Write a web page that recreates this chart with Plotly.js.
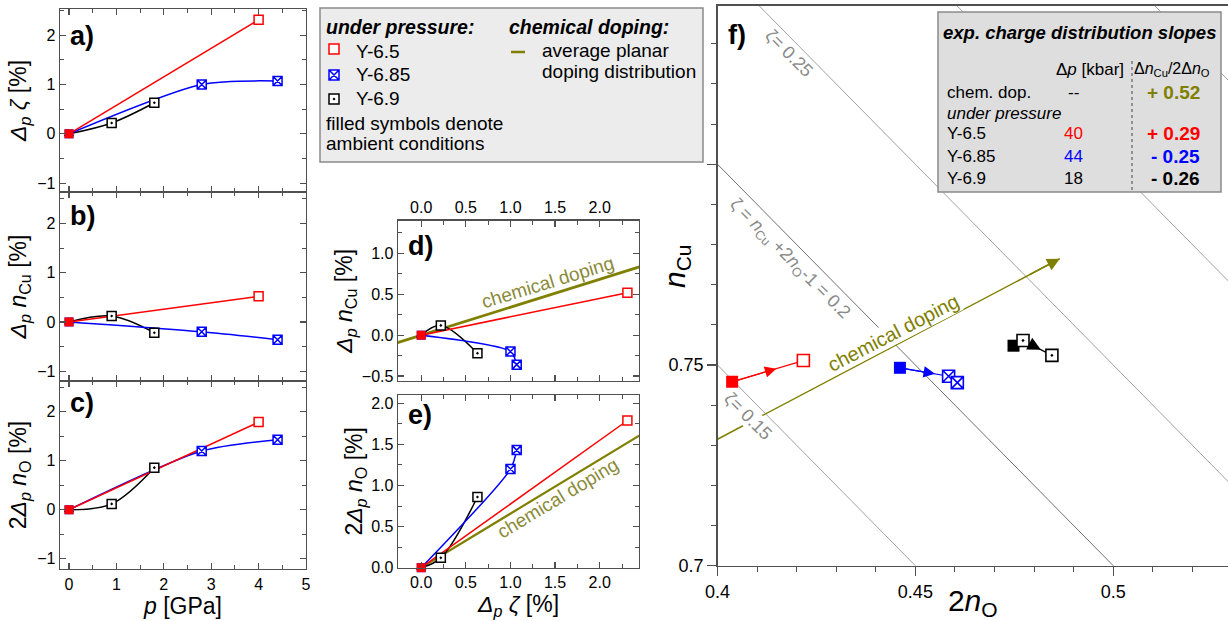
<!DOCTYPE html>
<html><head><meta charset="utf-8">
<script src="https://cdn.plot.ly/plotly-3.0.1.min.js"></script>
<style>html,body{margin:0;padding:0;background:#fff}</style>
</head><body><div id="chart" style="width:1228px;height:621px"></div>
<script>
// ---------------- data ----------------
const samples = ['Y-6.5', 'Y-6.85', 'Y-6.9'];
// pressure [GPa]
const pRed = [0, 4.0];
const pBlue = [0, 2.8, 4.4];
const pBlack = [0, 0.9, 1.8];
// Δp ζ [%]
const dZetaRed = [0, 2.31];
const dZetaBlue = [0, 1.00, 1.07];
const dZetaBlack = [0, 0.22, 0.63];
// Δp nCu [%]
const dNCuRed = [0, 0.52];
const dNCuBlue = [0, -0.20, -0.36];
const dNCuBlack = [0, 0.12, -0.22];
// 2 Δp nO [%]
const d2NORed = [0, 1.79];
const d2NOBlue = [0, 1.20, 1.43];
const d2NOBlack = [0, 0.12, 0.86];
// panel f: absolute 2nO / nCu
const f2nORed = [0.4037, 0.4217];
const fNCuRed = [0.7458, 0.7511];
const f2nOBlue = [0.4461, 0.4584, 0.4606];
const fNCuBlue = [0.7493, 0.7472, 0.7456];
const f2nOBlack = [0.4748, 0.4772, 0.4845];
const fNCuBlack = [0.7548, 0.7561, 0.7524];
// chemical doping
const chemSlope = 0.52;
const chemStart2nO = 0.4, chemStartNCu = 0.7315, chemEnd2nO = 0.4865;
const zetaLevels = [0.15, 0.20, 0.25, 0.30, 0.35];
// table
const pressKbar = ['40', '44', '18'];
const slopeText = ['+ 0.29', '- 0.25', '- 0.26'];
const chemSlopeText = '+ 0.52';

// ---------------- styling ----------------
const W = 1228, H = 621;
const px = x => x / W, py = y => 1 - y / H;
const FONT = 'Liberation Sans, Arial, sans-serif';
const RED = '#ff0000', BLUE = '#0000ff', BLACK = '#000000', OLIVE = '#808000', OLIVE_T = '#8a8a38';
const AX = '#505050';

const traces = [];
function panel(xa, ya, X, Y) {
  // X, Y: arrays [black, blue, red]
  const defs = [
    {c: BLACK, sym: 'square-dot', amb: 'triangle-up', shape: 'spline', sm: 1},
    {c: BLUE, sym: 'square-x', amb: 'square', shape: 'spline', sm: 0.75},
    {c: RED, sym: 'square', amb: 'square', shape: 'linear', sm: 1}
  ];
  defs.forEach((d, i) => {
    traces.push({x: X[i], y: Y[i], xaxis: xa, yaxis: ya, mode: 'lines', hoverinfo: 'skip',
      line: {color: d.c, width: 1.5, shape: d.shape, smoothing: d.sm}, showlegend: false});
  });
  defs.forEach((d, i) => {
    traces.push({x: X[i].slice(1), y: Y[i].slice(1), xaxis: xa, yaxis: ya, mode: 'markers', cliponaxis: false,
      marker: {symbol: d.sym, size: 9, color: '#ffffff', line: {color: d.c, width: 1.5}}, showlegend: false});
  });
  defs.forEach((d, i) => {
    traces.push({x: [X[i][0]], y: [Y[i][0]], xaxis: xa, yaxis: ya, mode: 'markers', cliponaxis: false,
      marker: {symbol: d.amb, size: 9, color: d.c, line: {width: 0}}, showlegend: false});
  });
}
panel('x', 'y', [pBlack, pBlue, pRed], [dZetaBlack, dZetaBlue, dZetaRed]);
panel('x2', 'y2', [pBlack, pBlue, pRed], [dNCuBlack, dNCuBlue, dNCuRed]);
panel('x3', 'y3', [pBlack, pBlue, pRed], [d2NOBlack, d2NOBlue, d2NORed]);

// chemical-doping lines in d and e (derived from slope ΔnCu/2ΔnO)
const chemX = [-0.4, 2.6];
traces.push({x: chemX, y: chemX.map(v => v * chemSlope / (1 + chemSlope)), xaxis: 'x4', yaxis: 'y4',
  mode: 'lines', line: {color: OLIVE, width: 2.8}, showlegend: false});
traces.push({x: chemX, y: chemX.map(v => v / (1 + chemSlope)), xaxis: 'x5', yaxis: 'y5',
  mode: 'lines', line: {color: OLIVE, width: 2.2}, showlegend: false});
panel('x4', 'y4', [dZetaBlack, dZetaBlue, dZetaRed], [dNCuBlack, dNCuBlue, dNCuRed]);
panel('x5', 'y5', [dZetaBlack, dZetaBlue, dZetaRed], [d2NOBlack, d2NOBlue, d2NORed]);

// panel f: iso-ζ lines  (ζ = nCu + 2nO - 1)
const isoX = [0.38, 0.56];
zetaLevels.forEach(z => {
  traces.push({x: isoX, y: isoX.map(v => z + 1 - v), xaxis: 'x6', yaxis: 'y6', mode: 'lines',
    line: {color: z === 0.2 ? '#707070' : '#a0a0a0', width: 1}, showlegend: false, hoverinfo: 'skip'});
});
// chemical doping line in f
const chemEndNCu = chemStartNCu + chemSlope * (chemEnd2nO - chemStart2nO);
traces.push({x: [chemStart2nO, chemEnd2nO], y: [chemStartNCu, chemEndNCu],
  xaxis: 'x6', yaxis: 'y6', mode: 'lines', line: {color: OLIVE, width: 1.5}, showlegend: false});

const fSeries = [
  {x: f2nORed, y: fNCuRed, c: RED, sym: 'square', arrowSeg: 0, frac: 0.62, as: 1.9, ss: 0},
  {x: f2nOBlue, y: fNCuBlue, c: BLUE, sym: 'square-x', arrowSeg: 0, frac: 0.72, as: 1.9, ss: 0},
  {x: f2nOBlack, y: fNCuBlack, c: BLACK, sym: 'square-dot', arrowSeg: 1, frac: 0.62, as: 2.2, ss: 7}
];
fSeries.forEach(s => {
  traces.push({x: s.x, y: s.y, xaxis: 'x6', yaxis: 'y6', mode: 'lines', line: {color: s.c, width: 1.2}, showlegend: false});
  traces.push({x: [s.x[0]], y: [s.y[0]], xaxis: 'x6', yaxis: 'y6', mode: 'markers',
    marker: {symbol: 'square', size: 12, color: s.c}, showlegend: false});
  traces.push({x: s.x.slice(1), y: s.y.slice(1), xaxis: 'x6', yaxis: 'y6', mode: 'markers',
    marker: {symbol: s.sym, size: 12, color: '#ffffff', line: {color: s.c, width: 1.6}}, showlegend: false});
});
// legend glyphs (overlay axis in pixel units)
traces.push({x: [334, 334, 334], y: [49, 75, 99], xaxis: 'x7', yaxis: 'y7', mode: 'markers', cliponaxis: false,
  marker: {symbol: ['square', 'square-x', 'square-dot'], size: 10, color: '#ffffff',
    line: {color: [RED, BLUE, BLACK], width: 1.5}}, showlegend: false, hoverinfo: 'skip'});

// ---------------- axes ----------------
function frameAxis(o) {
  return Object.assign({showline: true, linecolor: AX, linewidth: 1.4, mirror: 'allticks', ticks: 'inside',
    ticklen: 6, tickwidth: 1.2, tickcolor: AX, zeroline: false, showgrid: false,
    tickfont: {family: FONT, size: 16, color: '#000'}, fixedrange: true}, o);
}
const ttl = (t, s) => ({text: t, font: {family: FONT, size: s || 23, color: '#000'}});
const xabc = [px(60), px(306)];
const xde = [px(398), px(639)];
const minorInt = {dtick: 0.5, ticklen: 4, ticks: 'inside', tickcolor: AX, tickwidth: 1};
const minorDE = {dtick: 0.25, ticklen: 4, ticks: 'inside', tickcolor: AX, tickwidth: 1};

const layout = {
  width: W, height: H, margin: {l: 0, r: 0, t: 0, b: 0},
  paper_bgcolor: '#ffffff', plot_bgcolor: 'rgba(0,0,0,0)', showlegend: false,
  font: {family: FONT, color: '#000'},
  xaxis: frameAxis({domain: xabc, anchor: 'y', range: [-0.19, 5.0], tick0: 0, dtick: 1, minor: minorInt, showticklabels: false}),
  yaxis: frameAxis({domain: [py(192), py(9)], anchor: 'x', range: [-1.18, 2.53], tick0: 0, dtick: 1, minor: minorInt,
    title: Object.assign(ttl('<i>Δ<sub>p</sub> ζ</i> [%]'), {standoff: 4})}),
  xaxis2: frameAxis({domain: xabc, anchor: 'y2', range: [-0.19, 5.0], tick0: 0, dtick: 1, minor: minorInt, showticklabels: false}),
  yaxis2: frameAxis({domain: [py(381), py(192)], anchor: 'x2', range: [-1.2, 2.64], tick0: 0, dtick: 1, minor: minorInt,
    title: Object.assign(ttl('<i>Δ<sub>p</sub> n</i><sub>Cu</sub> [%]'), {standoff: 4})}),
  xaxis3: frameAxis({domain: xabc, anchor: 'y3', range: [-0.19, 5.0], tick0: 0, dtick: 1, minor: minorInt,
    title: Object.assign(ttl('<i>p</i> [GPa]'), {standoff: 2})}),
  yaxis3: frameAxis({domain: [py(569), py(381)], anchor: 'x3', range: [-1.21, 2.63], tick0: 0, dtick: 1, minor: minorInt,
    title: Object.assign(ttl('2<i>Δ<sub>p</sub> n</i><sub>O</sub> [%]'), {standoff: 4})}),
  xaxis4: frameAxis({domain: xde, anchor: 'y4', side: 'top', range: [-0.26, 2.44], tick0: 0, dtick: 0.5, tickformat: '.1f', minor: minorDE}),
  yaxis4: frameAxis({domain: [py(381), py(220.7)], anchor: 'x4', range: [-0.56, 1.40], tick0: 0, dtick: 0.5, tickformat: '.1f', minor: minorDE,
    title: Object.assign(ttl('<i>Δ<sub>p</sub> n</i><sub>Cu</sub> [%]'), {standoff: 2})}),
  xaxis5: frameAxis({domain: xde, anchor: 'y5', range: [-0.26, 2.44], tick0: 0, dtick: 0.5, tickformat: '.1f', minor: minorDE,
    title: Object.assign(ttl('<i>Δ<sub>p</sub> ζ</i> [%]'), {standoff: 2})}),
  yaxis5: frameAxis({domain: [py(567.7), py(395)], anchor: 'x5', range: [0, 2.1], tick0: 0, dtick: 0.5, tickformat: '.1f', minor: minorDE,
    title: Object.assign(ttl('2<i>Δ<sub>p</sub> n</i><sub>O</sub> [%]'), {standoff: 2})}),
  xaxis6: {domain: [px(717.5), 1], anchor: 'y6', range: [0.4, 0.529], showline: true, linecolor: AX, linewidth: 1.4, mirror: true,
    ticks: 'outside', ticklen: 9, tickwidth: 1.2, tickcolor: AX, tickmode: 'array', tickvals: [0.4, 0.45, 0.5], ticktext: ['0.4', '0.45', '0.5'],
    minor: {tickmode: 'linear', tick0: 0.4, dtick: 0.01, ticks: 'outside', ticklen: 5, tickcolor: AX, tickwidth: 1},
    showgrid: false, zeroline: false, tickfont: {family: FONT, size: 18, color: '#000'}, fixedrange: true,
    title: Object.assign(ttl('2<i>n</i><sub>O</sub>', 30), {standoff: 0})},
  yaxis6: {domain: [py(565.7), py(5.7)], anchor: 'x6', range: [0.7, 0.8395], showline: true, linecolor: AX, linewidth: 1.4, mirror: false,
    ticks: 'outside', ticklen: 9, tickwidth: 1.2, tickcolor: AX, tickmode: 'array', tickvals: [0.7, 0.75, 0.8], ticktext: ['0.7', '0.75', ''],
    minor: {tickmode: 'linear', tick0: 0.7, dtick: 0.01, ticks: 'outside', ticklen: 5, tickcolor: AX, tickwidth: 1},
    showgrid: false, zeroline: false, tickfont: {family: FONT, size: 18, color: '#000'}, fixedrange: true},
  xaxis7: {domain: [0, 1], anchor: 'y7', range: [0, W], visible: false, fixedrange: true},
  yaxis7: {domain: [0, 1], anchor: 'x7', range: [H, 0], visible: false, fixedrange: true},
  shapes: [], annotations: []
};

// legend box
layout.shapes.push({type: 'rect', xref: 'paper', yref: 'paper', x0: px(320), x1: px(703), y0: py(162), y1: py(8),
  fillcolor: '#ececec', line: {color: '#8a8a8a', width: 1.5}, layer: 'below'});
layout.shapes.push({type: 'line', xref: 'paper', yref: 'paper', x0: px(511), x1: px(525), y0: py(52), y1: py(52),
  line: {color: OLIVE, width: 2.5}, layer: 'above'});
// table box
layout.shapes.push({type: 'rect', xref: 'paper', yref: 'paper', x0: px(938), x1: px(1221), y0: py(192), y1: py(12),
  fillcolor: '#dedede', line: {color: '#8a8a8a', width: 1.5}, layer: 'above'});
layout.shapes.push({type: 'line', xref: 'paper', yref: 'paper', x0: px(1132), x1: px(1132), y0: py(190), y1: py(58),
  line: {color: '#444', width: 1, dash: 'dot'}, layer: 'above'});

const A = layout.annotations;
// arrowheads in f (annotations in data coordinates)
A.push({xref: 'x6', yref: 'y6', axref: 'x6', ayref: 'y6', x: chemEnd2nO, y: chemEndNCu,
  ax: chemEnd2nO - 0.008, ay: chemEndNCu - 0.008 * chemSlope, text: '', showarrow: true,
  arrowhead: 2, arrowsize: 1.7, arrowwidth: 1.5, arrowcolor: OLIVE, standoff: 0});
fSeries.forEach(s => {
  const i = s.arrowSeg;
  const x0 = s.x[i], y0 = s.y[i], x1 = s.x[i + 1], y1 = s.y[i + 1];
  A.push({xref: 'x6', yref: 'y6', axref: 'x6', ayref: 'y6', x: x0 + s.frac * (x1 - x0), y: y0 + s.frac * (y1 - y0),
    ax: x0, ay: y0, text: '', showarrow: true, arrowhead: 2, arrowsize: s.as, arrowwidth: 1.2, arrowcolor: s.c,
    standoff: 0, startstandoff: s.ss});
});

function txt(x, y, text, o) {
  A.push(Object.assign({xref: 'paper', yref: 'paper', x: px(x), y: py(y), text: text, showarrow: false,
    xanchor: 'left', yanchor: 'middle', font: {family: FONT, size: 19, color: '#000'}}, o || {}));
}
// panel labels
[['a)', 82, 36], ['b)', 82, 216], ['c)', 82, 403], ['d)', 420, 246], ['e)', 420, 415], ['f)', 737, 35]].forEach(l =>
  txt(l[1], l[2], '<b>' + l[0] + '</b>', {xanchor: 'center', font: {family: FONT, size: 27, color: '#000'}}));

// legend texts
const LB = {family: FONT, size: 19.5, color: '#000'};
txt(324, 27, '<b><i>under pressure:</i></b>', {font: LB});
txt(354, 51, samples[0]);
txt(354, 75, samples[1]);
txt(354, 98, samples[2]);
txt(324, 123, 'filled symbols denote');
txt(324, 143, 'ambient conditions');
txt(507, 27, '<b><i>chemical doping:</i></b>', {font: LB});
txt(540, 50, 'average planar');
txt(540, 72, 'doping distribution');

// chemical doping labels in d, e
txt(547, 282, 'chemical doping', {xanchor: 'center', textangle: -17, font: {family: FONT, size: 19, color: OLIVE_T}});
txt(557, 498, 'chemical doping', {xanchor: 'center', textangle: -31, font: {family: FONT, size: 19, color: OLIVE_T}});

// panel f labels
const gray = {family: FONT, size: 18, color: '#8a8a8a'};
txt(789, 53, 'ζ= 0.25', {xanchor: 'center', textangle: 45, font: gray, bgcolor: '#ffffff', borderpad: 0});
txt(790, 259, 'ζ = <i>n</i><sub>Cu</sub> +2<i>n</i><sub>O</sub>-1 = 0.2', {xanchor: 'center', textangle: 45, font: gray, bgcolor: '#ffffff', borderpad: 0});
txt(748, 416, 'ζ= 0.15', {xanchor: 'center', textangle: 45, font: gray, bgcolor: '#ffffff', borderpad: 0});
txt(893, 333, 'chemical doping', {xanchor: 'center', textangle: -27.4, font: {family: FONT, size: 20, color: OLIVE}, bgcolor: '#ffffff', borderpad: 0});
txt(676, 266, '<i>n</i><sub>Cu</sub>', {xanchor: 'center', textangle: -90, font: {family: FONT, size: 30, color: '#000'}});

// table texts
const T = {family: FONT, size: 17, color: '#000'};
txt(1079, 32, '<b><i>exp. charge distribution slopes</i></b>', {xanchor: 'center', font: {family: FONT, size: 18.5, color: '#000'}});
txt(1126, 69, 'Δ<i>p</i> [kbar]', {xanchor: 'right', font: T});
txt(1132, 69, 'Δ<i>n</i><sub>Cu</sub>/2Δ<i>n</i><sub>O</sub>', {font: {family: FONT, size: 16, color: '#000'}});
txt(945, 92, 'chem. dop.', {font: T});
txt(1073, 92, '--', {xanchor: 'center', font: T});
txt(1202, 92, '<b>' + chemSlopeText + '</b>', {xanchor: 'right', font: {family: FONT, size: 19, color: OLIVE}});
txt(945, 113, '<i>under pressure</i>', {font: T});
const rowY = [133, 156, 179], rowC = [RED, BLUE, BLACK];
samples.forEach((s, i) => {
  txt(945, rowY[i], s, {font: T});
  txt(1073, rowY[i], pressKbar[i], {xanchor: 'center', font: {family: FONT, size: 17, color: rowC[i]}});
  txt(1202, rowY[i], '<b>' + slopeText[i] + '</b>', {xanchor: 'right', font: {family: FONT, size: 19, color: rowC[i]}});
});

Plotly.newPlot('chart', traces, layout, {staticPlot: true, displayModeBar: false});
</script></body></html>
